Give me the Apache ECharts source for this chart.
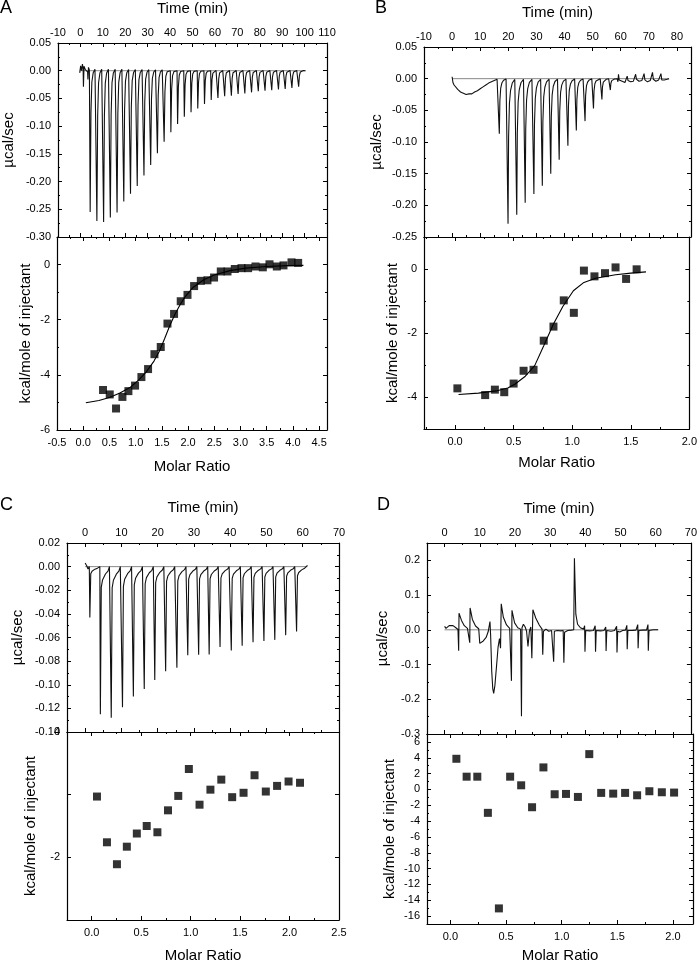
<!DOCTYPE html>
<html><head><meta charset="utf-8">
<script src="https://cdn.jsdelivr.net/npm/echarts/dist/echarts.min.js"></script>
<style>html,body{margin:0;padding:0;background:#fff}#c{width:700px;height:964px}</style>
</head><body><div id="c"></div>
<script>
const FONT = "'Liberation Sans', Arial, Helvetica, sans-serif";

// ---------- Panel A ----------
const aInjTime = [4.2,7.2,10.2,13.2,16.2,19.2,22.2,25.2,28.2,31.2,34.2,37.2,40.2,43.2,46.2,49.2,52.2,55.2,58.2,61.2,64.2,67.2,70.2,73.2,76.2,79.2,82.2,85.2,88.2,91.2,94.2,97.2];
const aInjPeak = [-0.255,-0.271,-0.273,-0.265,-0.256,-0.236,-0.222,-0.208,-0.189,-0.170,-0.149,-0.128,-0.111,-0.096,-0.083,-0.075,-0.068,-0.060,-0.053,-0.049,-0.046,-0.045,-0.042,-0.041,-0.039,-0.037,-0.036,-0.035,-0.034,-0.033,-0.031,-0.029];
const aLead = [[-0.3,-0.004],[0.1,0.009],[0.5,0.0],[0.9,0.012],[1.2,0.004],[1.35,-0.029],[1.6,0.008],[2.2,0.002],[2.8,0.005],[3.2,-0.002],[3.35,-0.016],[3.6,0.006],[4.0,0.001]];
const aTail = [[99.8,0.0],[100.4,0.0]];
const aShapeDt = [-0.1,0.15,0.5,0.9,1.5,2.3];
const aShapeFrac = [0,1,0.3,0.08,0.015,-0.01];
const aRatio = [0.378,0.506,0.626,0.748,0.862,0.989,1.11,1.237,1.359,1.479,1.607,1.733,1.86,1.989,2.115,2.243,2.37,2.496,2.624,2.752,2.891,3.019,3.145,3.286,3.426,3.553,3.693,3.82,3.973,4.1];
const aHeat = [-4.55,-4.71,-5.22,-4.80,-4.59,-4.39,-4.08,-3.79,-3.25,-2.99,-2.14,-1.79,-1.33,-1.10,-0.78,-0.59,-0.57,-0.47,-0.25,-0.25,-0.16,-0.13,-0.13,-0.07,-0.10,0.01,-0.07,-0.03,0.08,0.06];
const aFitX = [0.05,0.3,0.5,0.7,0.9,1.05,1.2,1.35,1.45,1.55,1.65,1.75,1.85,1.95,2.1,2.3,2.5,2.8,3.1,3.5,3.9,4.2];
const aFitY = [-5.01,-4.93,-4.82,-4.66,-4.45,-4.2,-3.9,-3.5,-3.15,-2.7,-2.22,-1.8,-1.45,-1.15,-0.82,-0.55,-0.38,-0.22,-0.13,-0.07,-0.04,-0.03];

// ---------- Panel B ----------
const bLead = [[0.0,0.003],[0.3,-0.006],[0.7,-0.01],[1.2,-0.012],[2,-0.017],[3,-0.021],[4,-0.023],[5,-0.025],[6,-0.024],[7,-0.024],[8,-0.021],[9,-0.019],[10,-0.016],[11,-0.013],[12,-0.01],[13,-0.007],[14,-0.005],[15,-0.003],[16,-0.001]];
const bInjTime = [16.7,19.8,22.9,25.9,29.0,32.0,35.0,38.0,41.1,44.1,47.2,50.2,53.2,56.2];
const bInjPeak = [-0.087,-0.229,-0.215,-0.196,-0.182,-0.169,-0.150,-0.128,-0.106,-0.082,-0.067,-0.047,-0.033,-0.018];
const bShapeDt = [-0.05,0.1,0.3,0.6,1.0,1.6,2.5];
const bShapeFrac = [0,1,0.4,0.17,0.08,0.03,0.005];
const bTail = [[59.0,-0.005],[59.2,0.007],[59.45,-0.002],[60.5,-0.004],[61.5,-0.006],[62.3,0.004],[62.6,-0.003],[63.5,-0.005],[64.5,-0.004],[65.3,0.007],[65.6,-0.001],[66.5,-0.004],[67.5,-0.003],[68.3,0.008],[68.6,-0.002],[69.5,-0.005],[70.5,-0.003],[71.3,0.01],[71.6,-0.001],[72.5,-0.004],[73.5,-0.002],[74.3,0.008],[74.6,-0.002],[75.5,-0.002],[76.5,-0.001],[77.2,0.0]];
const bRatio = [0.02,0.257,0.34,0.42,0.50,0.585,0.67,0.757,0.84,0.928,1.014,1.10,1.19,1.28,1.37,1.46,1.55];
const bHeat = [-3.73,-3.94,-3.77,-3.85,-3.58,-3.18,-3.15,-2.24,-1.80,-0.98,-1.37,-0.05,-0.23,-0.13,0.05,-0.31,-0.01];
const bFitX = [0.03,0.2,0.35,0.45,0.51,0.6,0.68,0.757,0.84,0.92,1.01,1.1,1.2,1.37,1.5,1.63];
const bFitY = [-3.92,-3.88,-3.81,-3.72,-3.6,-3.35,-3.02,-2.4,-1.72,-1.17,-0.68,-0.42,-0.29,-0.18,-0.13,-0.09];

// ---------- Panel C ----------
const cLead = [[0,0.003],[0.4,0.001],[0.8,-0.002]];
const cInjTime = [1.2,4.1,7.1,10.2,13.2,16.2,19.1,22.1,25.2,28.2,31.2,34.1,37.1,40.2,43.2,46.2,49.2,52.2,55.2,58.2];
const cInjPeak = [-0.043,-0.125,-0.128,-0.119,-0.110,-0.1035,-0.096,-0.0885,-0.0857,-0.075,-0.0746,-0.0743,-0.068,-0.071,-0.067,-0.064,-0.063,-0.062,-0.058,-0.055];
const cShapeDt = [-0.05,0.1,0.35,0.7,1.5,2.2,2.6];
const cShapeFrac = [0,1,0.14,0.09,0.05,0.03,0.0];
const cTail = [[60.5,-0.001],[61.3,0.001]];
const cRatio = [0.053,0.154,0.255,0.355,0.456,0.556,0.664,0.771,0.875,0.982,1.09,1.20,1.31,1.42,1.535,1.646,1.76,1.874,1.99,2.106];
const cHeat = [-1.03,-1.76,-2.11,-1.83,-1.62,-1.50,-1.60,-1.25,-1.02,-0.59,-1.16,-0.92,-0.76,-1.04,-0.97,-0.69,-0.95,-0.86,-0.79,-0.81];

// ---------- Panel D ----------
const dTrace = [[0.0,0.010],[0.4,0.004],[0.8,0.009],[1.3,0.012],[1.7,0.015],[2.4,0.012],[3.2,0.006],[3.8,0.001],
[4.0,-0.060],[4.1,0.048],[4.8,0.027],[5.6,0.012],[6.5,0.004],[7.0,0.002],
[7.15,-0.037],[7.25,0.063],[7.9,0.030],[8.8,0.011],[9.7,0.003],
[10.0,-0.039],[10.3,-0.036],[11.0,-0.032],[11.8,-0.022],[12.4,-0.005],[12.9,0.024],[13.1,-0.02],[13.4,-0.12],[13.7,-0.17],[13.95,-0.183],[14.3,-0.16],[14.8,-0.1],[15.2,-0.05],[15.6,-0.025],[15.8,-0.02],[15.9,-0.053],[16.1,0.075],[16.7,0.036],[17.6,0.014],[18.5,0.004],
[18.9,0.001],[19.0,-0.147],[19.15,0.056],[19.9,0.02],[20.8,0.006],[21.6,0.002],[21.85,-0.249],[22.0,0.006],[22.4,0.016],[22.9,0.008],[23.3,-0.004],[23.7,-0.048],[24.1,-0.004],[24.5,0.008],[24.8,-0.082],[25.1,0.058],[25.9,0.034],[26.9,0.014],[27.7,0.002],
[27.9,-0.072],[28.1,-0.004],[28.8,0.002],[29.6,-0.004],[30.4,-0.002],[30.9,-0.003],
[31.0,-0.092],[31.2,-0.004],[32.0,-0.002],[33.0,-0.003],[33.7,-0.002],
[33.9,-0.095],[34.1,-0.007],[35.0,-0.002],[36.0,-0.001],[36.7,0.0],
[36.9,0.206],[37.3,0.045],[37.8,0.016],[38.6,0.006],[39.5,0.002],
[39.8,0.012],[39.9,-0.063],[40.1,-0.002],[41.2,-0.003],[42.3,-0.002],
[42.8,0.012],[42.9,-0.063],[43.1,-0.002],[44.3,-0.003],[45.3,-0.002],
[45.8,0.008],[45.9,-0.061],[46.1,-0.002],[47.3,-0.004],[48.3,-0.002],
[48.9,0.01],[49.0,-0.065],[49.2,-0.004],[49.8,-0.006],[50.6,-0.002],[51.4,-0.001],
[51.8,0.013],[51.9,-0.056],[52.1,-0.002],[53.3,-0.002],[54.4,-0.001],
[54.9,0.015],[55.0,-0.053],[55.2,-0.002],[56.3,-0.001],[57.4,-0.001],
[57.8,0.015],[57.9,-0.060],[58.1,-0.002],[59.3,0.0],[60.7,0.0]];
const dRatio = [0.054,0.146,0.242,0.337,0.436,0.537,0.636,0.734,0.836,0.937,1.039,1.146,1.248,1.355,1.463,1.57,1.678,1.788,1.9,2.01];
const dHeat = [3.87,1.61,1.61,-2.96,-15.03,1.61,0.52,-2.25,2.78,-0.61,-0.57,-0.95,4.46,-0.44,-0.53,-0.44,-0.74,-0.23,-0.36,-0.40];

// ---------- helpers ----------
function spikeTrace(lead, times, peaks, dt, frac, tail){
  const pts = lead.slice();
  times.forEach((t,i)=>{ dt.forEach((d,j)=>pts.push([t+d, peaks[i]*frac[j]])); });
  return pts.concat(tail);
}
function zip(x,y){ return x.map((v,i)=>[v,y[i]]); }
function fmt(kind){
  if (typeof kind==='number') return v=>(Math.abs(v)<1e-9?0:v).toFixed(kind);
  if (typeof kind==='function') return kind;
  return v=>String(Math.round(v));
}
const grids = [
  {left:57, top:43, width:270, height:194},
  {left:57, top:237, width:270, height:193},
  {left:424, top:47, width:267, height:190},
  {left:424, top:237, width:267, height:192},
  {left:67, top:543, width:272, height:189},
  {left:67, top:732, width:272, height:189},
  {left:427, top:543, width:266, height:191},
  {left:427, top:734, width:266, height:192}
];
const xAxes=[], yAxes=[];
function mkAxis(c, gi, pos, labeled, name, gap){
  const a = {type:'value', gridIndex:gi, position:pos, min:c.min, max:c.max,
    axisLine:{show:true,onZero:false,lineStyle:{color:'#000',width:1.2}},
    axisTick:{show:true,inside:true,length:4,lineStyle:{color:'#000',width:1}},
    minorTick:{show:c.minor!==0,splitNumber:c.minor||2,length:2,lineStyle:{color:'#000',width:1}},
    splitLine:{show:false},
    axisLabel:{show:labeled,fontSize:11,color:'#000',fontFamily:FONT,margin:c.margin||6,
      formatter:fmt(c.fmt),showMinLabel:c.showMin!==false,showMaxLabel:c.showMax!==false},
    name: labeled?name:'', nameLocation:'middle', nameGap:gap||20,
    nameTextStyle:{fontSize:15,color:'#000',fontFamily:FONT}
  };
  if (c.interval!=null) a.interval=c.interval;
  if (c.split!=null) a.splitNumber=c.split;
  return a;
}
function addAxes(gi, xc, yc, xPos, xName, xGap, yName, yGap){
  const xi = xAxes.length, yi = yAxes.length;
  xAxes.push(mkAxis(xc, gi, xPos, true, xName, xGap));
  xAxes.push(mkAxis(xc, gi, xPos==='top'?'bottom':'top', false));
  yAxes.push(mkAxis(yc, gi, 'left', true, yName, yGap));
  yAxes.push(mkAxis(yc, gi, 'right', false));
  return {xi, yi};
}
const T='Time (min)', U='µcal/sec', K='kcal/mole of injectant', M='Molar Ratio';
const At = addAxes(0,{min:-10,max:110,interval:10,fmt:'i',margin:5},{min:-0.30,max:0.05,interval:0.05,fmt:2,margin:7},'top',T,27,U,42);
const Ab = addAxes(1,{min:-0.5,max:4.65,interval:0.5,fmt:1,showMax:false,margin:7},{min:-6,max:1,interval:2,fmt:'i',showMax:false,margin:7},'bottom',M,29,K,24);
const Bt = addAxes(2,{min:-10,max:85,interval:10,fmt:'i',showMax:false,margin:5},{min:-0.25,max:0.05,interval:0.05,fmt:2,margin:7},'top',T,27,U,40);
const Bb = addAxes(3,{min:-0.265,max:2.0,split:5,fmt:1,showMin:false,margin:7},{min:-5,max:1,split:3,fmt:'i',showMin:false,showMax:false,margin:7},'bottom',M,26,K,24);
const Ct = addAxes(4,{min:-5,max:70,split:7,fmt:'i',showMin:false,margin:5},{min:-0.14,max:0.02,interval:0.02,fmt:2,margin:7},'top',T,28,U,42);
const Cb = addAxes(5,{min:-0.25,max:2.5,split:5,fmt:1,showMin:false,margin:7},{min:-3,max:0,interval:1,minor:0,fmt:v=>(Math.round(v)===-2||Math.round(v)===0)?String(Math.round(v)):'',margin:7},'bottom',M,28,K,29);
const Dt = addAxes(6,{min:-5,max:70,split:7,fmt:'i',showMin:false,margin:5},{min:-0.3,max:0.25,interval:0.1,fmt:1,showMax:false,margin:7},'top',T,27,U,37);
const Db = addAxes(7,{min:-0.21,max:2.18,split:5,fmt:1,showMin:false,showMax:false,margin:7},{min:-17,max:7,split:12,fmt:'i',showMin:false,showMax:false,margin:7},'bottom',M,24,K,30);

function line(ax, data, color, z, w){
  return {type:'line', xAxisIndex:ax.xi, yAxisIndex:ax.yi, data, symbol:'none', silent:true,
    lineStyle:{color, width:w||1.1}, z:z||2, clip:true};
}
function sq(ax, data){
  return {type:'scatter', xAxisIndex:ax.xi, yAxisIndex:ax.yi, data, symbol:'rect', symbolSize:8,
    itemStyle:{color:'#000'}, z:3, silent:true};
}
const series = [
  line(At, [[-0.3,0],[100.4,0]], '#888', 1, 1),
  line(At, spikeTrace(aLead,aInjTime,aInjPeak,aShapeDt,aShapeFrac,aTail), '#111'),
  sq(Ab, zip(aRatio,aHeat)),
  line(Ab, zip(aFitX,aFitY), '#000'),
  line(Bt, [[0,0],[77.2,0]], '#888', 1, 1),
  line(Bt, spikeTrace(bLead,bInjTime,bInjPeak,bShapeDt,bShapeFrac,bTail), '#111'),
  sq(Bb, zip(bRatio,bHeat)),
  line(Bb, zip(bFitX,bFitY), '#000'),
  line(Ct, [[0,0],[61.3,0]], '#888', 1, 1),
  line(Ct, spikeTrace(cLead,cInjTime,cInjPeak,cShapeDt,cShapeFrac,cTail), '#111'),
  sq(Cb, zip(cRatio,cHeat)),
  line(Dt, [[0,0],[60.7,0]], '#888', 1, 1),
  line(Dt, dTrace, '#111'),
  sq(Db, zip(dRatio,dHeat))
];
const titles = [['A',0,-1],['B',375,-1],['C',0,496],['D',377,496]].map(t=>({text:t[0],left:t[1],top:t[2],padding:0,
  textStyle:{fontSize:18,fontWeight:'normal',color:'#000',fontFamily:FONT}}));

const chart = echarts.init(document.getElementById('c'), null, {renderer:'canvas'});
chart.setOption({
  animation:false, backgroundColor:'#fff', textStyle:{fontFamily:FONT},
  title:titles, grid:grids, xAxis:xAxes, yAxis:yAxes, series
});
</script></body></html>
